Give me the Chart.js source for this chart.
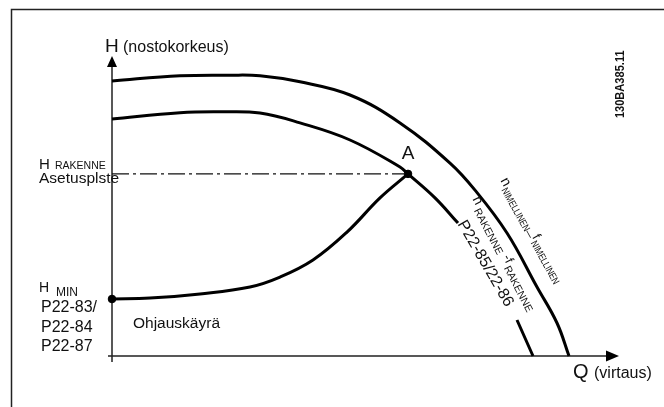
<!DOCTYPE html>
<html>
<head>
<meta charset="utf-8">
<script src="https://cdn.jsdelivr.net/npm/chart.js@4.4.1/dist/chart.umd.min.js"></script>
<style>
  body { margin: 0; background: #fff; }
  #wrap { width: 664px; height: 407px; position: relative; }
</style>
</head>
<body>
<div id="wrap"><canvas id="pumpChart"></canvas></div>
<script>
// pump curves, Q (flow) 0..100 and H (head) 0..100
var nominalQ = [0, 13.6, 23.6, 29.6, 37.6, 47.6, 57.6, 67.6, 72.6, 79, 85, 89, 91.4];
var nominalH = [91.7, 93.4, 93.6, 93.4, 91.4, 87, 77.7, 64.3, 55.3, 41, 23, 11, 0];
// design curve, broken where the P22-85/22-86 label sits
var designQ = [0, 13.6, 21.6, 29.6, 37.6, 47.6, 57.6, 59.2, 64.6, 69.2, 75, 81, 84.2];
var designH = [79, 81.1, 81.4, 81, 77.7, 72, 63, 60.7, 52.7, 44.3, null, 12, 0];
// control curve from H min up to point A
var controlQ = [0, 7.6, 17.6, 27.6, 33.6, 40.2, 47, 53.6, 59.2];
var controlH = [19, 19.3, 20.7, 23, 26.3, 32, 41.3, 52.7, 60.7];
var setpointQ = [0, 59.2];
var setpointH = [60.7, 60.7];
var markerQ = [0, 59.2];
var markerH = [19, 60.7];

function pts(qs, hs) {
    return qs.map((q, i) => ({ x: q, y: hs[i] }));
}

var FONT = "'Liberation Sans', Arial, sans-serif";

function txt(ctx, s, x, y, size, opts) {
    opts = opts || {};
    ctx.font = (opts.bold ? 'bold ' : '') + size + 'px ' + FONT;
    ctx.textAlign = opts.align || 'left';
    ctx.textBaseline = 'alphabetic';
    ctx.fillText(s, x, y);
}

// text running along a curve, made of pieces with own size and offset
function along(ctx, x0, y0, deg, parts) {
    ctx.save();
    ctx.translate(x0, y0);
    ctx.rotate(deg * Math.PI / 180);
    ctx.textAlign = 'left';
    ctx.textBaseline = 'middle';
    var cx = 0;
    parts.forEach(p => {
        ctx.font = p.size + 'px ' + FONT;
        var sx = p.sx || 1;
        ctx.save();
        ctx.translate(cx, p.dy || 0);
        ctx.scale(sx, 1);
        ctx.fillText(p.t, 0, 0);
        ctx.restore();
        cx += ctx.measureText(p.t).width * sx + (p.gap || 0);
    });
    ctx.restore();
}

var diagram = {
    id: 'diagram',
    beforeDatasetsDraw(chart) {
        var ctx = chart.ctx;
        var x = chart.scales.x, y = chart.scales.y;
        var x0 = x.getPixelForValue(0), y0 = y.getPixelForValue(0);
        ctx.save();
        // frame
        ctx.strokeStyle = '#222';
        ctx.lineWidth = 1.5;
        ctx.strokeRect(11.5, 9.5, 720, 480);
        // axes
        ctx.beginPath();
        ctx.moveTo(x0, y.getPixelForValue(-2));
        ctx.lineTo(x0, y.getPixelForValue(97));
        ctx.moveTo(x.getPixelForValue(-0.8), y0);
        ctx.lineTo(x.getPixelForValue(99), y0);
        ctx.stroke();
        // arrow heads
        ctx.fillStyle = '#000';
        var ty = y.getPixelForValue(100);
        ctx.beginPath();
        ctx.moveTo(x0, ty);
        ctx.lineTo(x0 - 5, ty + 11);
        ctx.lineTo(x0 + 5, ty + 11);
        ctx.closePath();
        ctx.fill();
        var tx = x.getPixelForValue(101.4);
        ctx.beginPath();
        ctx.moveTo(tx, y0);
        ctx.lineTo(tx - 13, y0 - 5.5);
        ctx.lineTo(tx - 13, y0 + 5.5);
        ctx.closePath();
        ctx.fill();
        ctx.restore();
    },
    afterDatasetsDraw(chart) {
        var ctx = chart.ctx;
        var x = chart.scales.x, y = chart.scales.y;
        var px = q => x.getPixelForValue(q), py = h => y.getPixelForValue(h);
        ctx.save();
        ctx.fillStyle = '#111';
        txt(ctx, 'H', px(-1.4), py(101.3), 19);
        txt(ctx, '(nostokorkeus)', px(2.2), py(101.3), 16);
        txt(ctx, 'H', px(-14.6), py(62.2), 15);
        txt(ctx, 'RAKENNE', px(-11.4), py(62.2), 10.5);
        txt(ctx, 'Asetusplste', px(-14.6), py(57.7), 15.5);
        txt(ctx, 'H', px(-14.6), py(21.3), 14);
        txt(ctx, 'MIN', px(-11.2), py(20), 12);
        txt(ctx, 'P22-83/', px(-14.2), py(14.7), 16);
        txt(ctx, 'P22-84', px(-14.2), py(8), 16);
        txt(ctx, 'P22-87', px(-14.2), py(1.7), 16);
        txt(ctx, 'Ohjauskäyrä', px(4.2), py(9.3), 15.5);
        txt(ctx, 'A', px(59.2), py(65.7), 19, { align: 'center' });
        txt(ctx, 'Q', px(92.2), py(-7.3), 20);
        txt(ctx, '(virtaus)', px(96.4), py(-7.3), 16);
        // drawing number, rotated
        ctx.save();
        ctx.translate(px(102.4), py(79.3));
        ctx.rotate(-Math.PI / 2);
        ctx.scale(0.82, 1);
        txt(ctx, '130BA385.11', 0, 0, 13.5, { bold: true });
        ctx.restore();
        // curve labels
        along(ctx, px(78), py(58.8), 61, [
            { t: 'n', size: 14, dy: -2, gap: 1 },
            { t: 'NIMELLINEN\u2014', size: 10, sx: 0.8, dy: 3, gap: 0 },
            { t: 'f', size: 13, dy: -2, gap: 1 },
            { t: 'NIMELLINEN', size: 10, sx: 0.8, dy: 3 }
        ]);
        along(ctx, px(72.4), py(52.6), 62.5, [
            { t: 'n', size: 14, dy: -2, gap: 3 },
            { t: 'RAKENNE', size: 10.5, dy: 3, gap: 4 },
            { t: '-f', size: 13, dy: -2, gap: 2 },
            { t: 'RAKENNE', size: 10.5, dy: 3 }
        ]);
        along(ctx, px(69.8), py(44.8), 60, [
            { t: 'P22-85/22-86', size: 16 }
        ]);
        ctx.restore();
    }
};

var curve = {
    showLine: true,
    pointRadius: 0,
    borderColor: '#000',
    borderWidth: 3,
    tension: 0.4,
    spanGaps: false,
    clip: false
};

var ctx = document.getElementById('pumpChart').getContext('2d');
var pumpChart = new Chart(ctx, {
    type: 'scatter',
    data: {
        datasets: [
            Object.assign({ label: 'n nimellinen', data: pts(nominalQ, nominalH) }, curve),
            Object.assign({ label: 'n rakenne', data: pts(designQ, designH) }, curve),
            Object.assign({ label: 'Ohjauskäyrä', data: pts(controlQ, controlH) }, curve),
            {
                label: 'Asetuspiste',
                data: pts(setpointQ, setpointH),
                showLine: true,
                pointRadius: 0,
                borderColor: '#111',
                borderWidth: 1.2,
                borderDash: [17, 4, 3, 4],
                clip: false
            },
            {
                label: 'pisteet',
                data: pts(markerQ, markerH),
                showLine: false,
                pointRadius: 3.8,
                pointBackgroundColor: '#000',
                pointBorderColor: '#000',
                clip: false
            }
        ]
    },
    options: {
        responsive: true,
        maintainAspectRatio: false,
        animation: false,
        events: [],
        layout: { padding: { left: 112, right: 52, top: 56, bottom: 51 } },
        plugins: { legend: { display: false }, tooltip: { enabled: false } },
        scales: {
            x: { type: 'linear', min: 0, max: 100, display: false },
            y: { type: 'linear', min: 0, max: 100, display: false }
        }
    },
    plugins: [diagram]
});
</script>
</body>
</html>
